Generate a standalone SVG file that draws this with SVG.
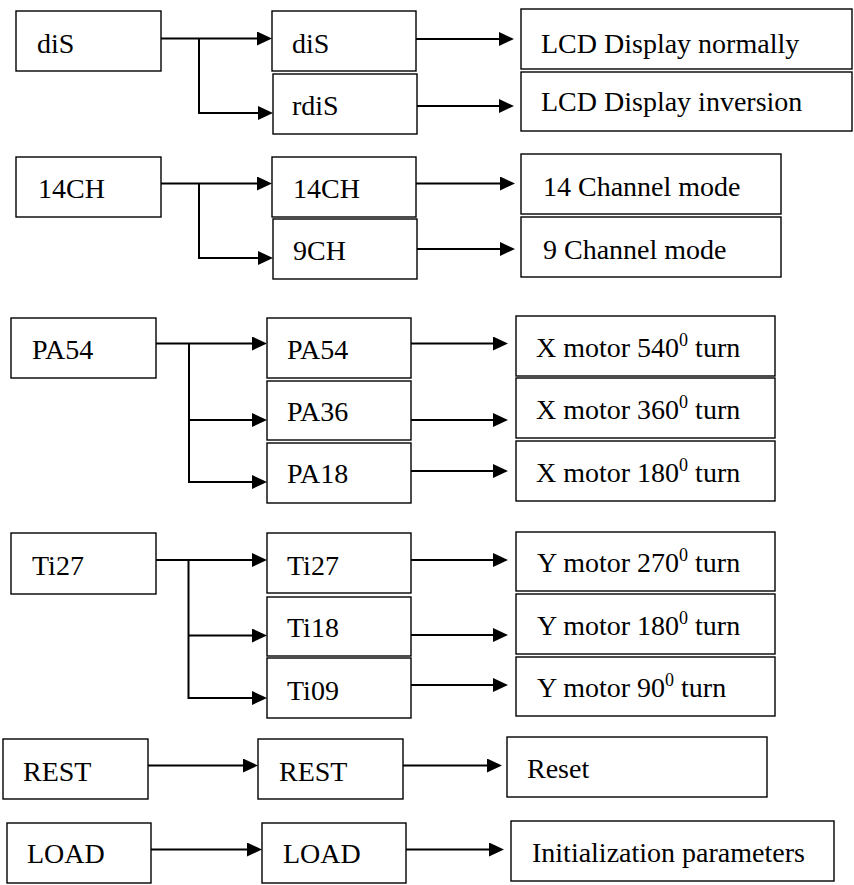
<svg xmlns="http://www.w3.org/2000/svg" width="854" height="885" viewBox="0 0 854 885">
<style>
rect.box{fill:#fff;stroke:#000;stroke-width:1.4}
.sup{font-size:18px}
#connectors path,#connectors line{fill:none;stroke:#000;stroke-width:2}
</style>
<defs>
<marker id="ah" markerUnits="userSpaceOnUse" markerWidth="16" markerHeight="15" refX="10" refY="7" orient="auto" viewBox="0 0 16 15">
<path d="M0,0 L15,7 L0,14 z" fill="#000"/>
</marker>
</defs>
<rect width="854" height="885" fill="#fff"/>
<g id="connectors">
<line x1="161" y1="38.5" x2="267" y2="38.5" marker-end="url(#ah)"/>
<path d="M199,38.5 V113 H268" marker-end="url(#ah)"/>
<line x1="416" y1="39" x2="509" y2="39" marker-end="url(#ah)"/>
<line x1="417" y1="106" x2="509" y2="106" marker-end="url(#ah)"/>

<line x1="161" y1="183.5" x2="267" y2="183.5" marker-end="url(#ah)"/>
<path d="M199,183.5 V258 H268" marker-end="url(#ah)"/>
<line x1="416" y1="183.5" x2="510" y2="183.5" marker-end="url(#ah)"/>
<line x1="417" y1="249" x2="510" y2="249" marker-end="url(#ah)"/>

<line x1="156" y1="343.5" x2="262" y2="343.5" marker-end="url(#ah)"/>
<path d="M189,343.5 V482 H262" marker-end="url(#ah)"/>
<line x1="189" y1="420" x2="262" y2="420" marker-end="url(#ah)"/>
<line x1="411" y1="343.5" x2="503" y2="343.5" marker-end="url(#ah)"/>
<line x1="411" y1="420" x2="503" y2="420" marker-end="url(#ah)"/>
<line x1="411" y1="471" x2="503" y2="471" marker-end="url(#ah)"/>

<line x1="156" y1="560" x2="262" y2="560" marker-end="url(#ah)"/>
<path d="M188.5,560 V698 H262" marker-end="url(#ah)"/>
<line x1="188.5" y1="635.5" x2="262" y2="635.5" marker-end="url(#ah)"/>
<line x1="411" y1="560" x2="503" y2="560" marker-end="url(#ah)"/>
<line x1="411" y1="635" x2="503" y2="635" marker-end="url(#ah)"/>
<line x1="411" y1="685" x2="503" y2="685" marker-end="url(#ah)"/>

<line x1="148" y1="765.5" x2="253" y2="765.5" marker-end="url(#ah)"/>
<line x1="403" y1="765.5" x2="497" y2="765.5" marker-end="url(#ah)"/>

<line x1="151" y1="849.5" x2="257" y2="849.5" marker-end="url(#ah)"/>
<line x1="406" y1="849.5" x2="499" y2="849.5" marker-end="url(#ah)"/>
</g>

<g id="nodes" font-family="Liberation Serif" font-size="28" fill="#000">
<g id="n-dis-l"><rect class="box" x="16" y="11" width="145" height="60"/><text x="37" y="53">diS</text></g>
<g id="n-dis-m"><rect class="box" x="272" y="11" width="144" height="60"/><text x="292" y="53">diS</text></g>
<g id="n-rdis"><rect class="box" x="273" y="74" width="144" height="60"/><text x="292" y="115">rdiS</text></g>
<g id="n-lcd-normal"><rect class="box" x="521" y="9" width="331" height="60"/><text x="541" y="53">LCD Display normally</text></g>
<g id="n-lcd-inv"><rect class="box" x="521" y="72" width="331" height="59"/><text x="541" y="111">LCD Display inversion</text></g>

<g id="n-14ch-l"><rect class="box" x="16" y="157" width="145" height="60"/><text x="38" y="198">14CH</text></g>
<g id="n-14ch-m"><rect class="box" x="272" y="157" width="144" height="60"/><text x="293" y="198">14CH</text></g>
<g id="n-9ch"><rect class="box" x="273" y="219" width="144" height="60"/><text x="293" y="260">9CH</text></g>
<g id="n-14mode"><rect class="box" x="521" y="154" width="260" height="60"/><text x="543" y="196">14 Channel mode</text></g>
<g id="n-9mode"><rect class="box" x="521" y="217" width="260" height="60"/><text x="543" y="259">9 Channel mode</text></g>

<g id="n-pa54-l"><rect class="box" x="11" y="318" width="145" height="60"/><text x="32" y="359">PA54</text></g>
<g id="n-pa54-m"><rect class="box" x="267" y="318" width="144" height="60"/><text x="287" y="359">PA54</text></g>
<g id="n-pa36"><rect class="box" x="267" y="381" width="144" height="59"/><text x="287" y="421">PA36</text></g>
<g id="n-pa18"><rect class="box" x="267" y="443" width="144" height="60"/><text x="287" y="483">PA18</text></g>
<g id="n-x540"><rect class="box" x="516" y="316" width="259" height="60"/><text x="536" y="357">X motor 540<tspan class="sup" dy="-11">0</tspan><tspan dy="11"> turn</tspan></text></g>
<g id="n-x360"><rect class="box" x="516" y="378" width="259" height="60"/><text x="536" y="419">X motor 360<tspan class="sup" dy="-11">0</tspan><tspan dy="11"> turn</tspan></text></g>
<g id="n-x180"><rect class="box" x="516" y="441" width="259" height="60"/><text x="536" y="482">X motor 180<tspan class="sup" dy="-11">0</tspan><tspan dy="11"> turn</tspan></text></g>

<g id="n-ti27-l"><rect class="box" x="11" y="533" width="145" height="61"/><text x="32" y="575">Ti27</text></g>
<g id="n-ti27-m"><rect class="box" x="267" y="533" width="144" height="60"/><text x="287" y="575">Ti27</text></g>
<g id="n-ti18"><rect class="box" x="267" y="597" width="144" height="59"/><text x="287" y="637">Ti18</text></g>
<g id="n-ti09"><rect class="box" x="267" y="658" width="144" height="60"/><text x="287" y="700">Ti09</text></g>
<g id="n-y270"><rect class="box" x="516" y="532" width="259" height="59"/><text x="537" y="572">Y motor 270<tspan class="sup" dy="-11">0</tspan><tspan dy="11"> turn</tspan></text></g>
<g id="n-y180"><rect class="box" x="516" y="594" width="259" height="60"/><text x="537" y="635">Y motor 180<tspan class="sup" dy="-11">0</tspan><tspan dy="11"> turn</tspan></text></g>
<g id="n-y90"><rect class="box" x="516" y="657" width="259" height="59"/><text x="537" y="697">Y motor 90<tspan class="sup" dy="-11">0</tspan><tspan dy="11"> turn</tspan></text></g>

<g id="n-rest-l"><rect class="box" x="3" y="739" width="145" height="60"/><text x="23" y="781">REST</text></g>
<g id="n-rest-m"><rect class="box" x="258" y="739" width="145" height="60"/><text x="279" y="781">REST</text></g>
<g id="n-reset"><rect class="box" x="507" y="737" width="260" height="60"/><text x="527" y="778">Reset</text></g>

<g id="n-load-l"><rect class="box" x="7" y="823" width="144" height="60"/><text x="27" y="863">LOAD</text></g>
<g id="n-load-m"><rect class="box" x="262" y="823" width="144" height="60"/><text x="283" y="863">LOAD</text></g>
<g id="n-init"><rect class="box" x="511" y="821" width="323" height="60"/><text x="532" y="862">Initialization parameters</text></g>
</g>
</svg>
